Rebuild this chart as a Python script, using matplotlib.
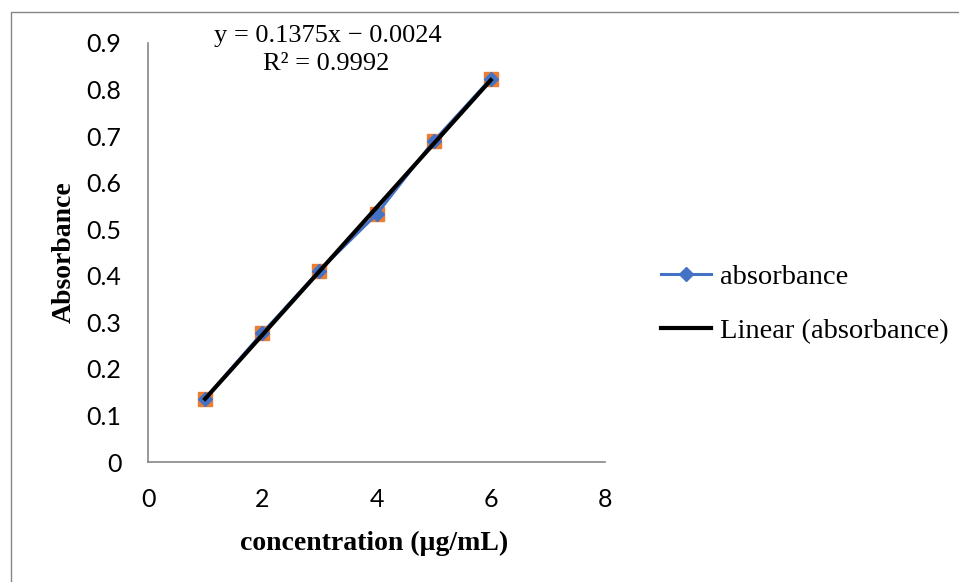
import numpy as np
import matplotlib.pyplot as plt
from matplotlib.patches import Rectangle

# calibration data
concentration = [1, 2, 3, 4, 5, 6]
absorbance = [0.136, 0.277, 0.411, 0.532, 0.689, 0.823]

x_ticks = [0, 2, 4, 6, 8]
y_ticks = [0, 0.1, 0.2, 0.3, 0.4, 0.5, 0.6, 0.7, 0.8, 0.9]

eq_text = "y = 0.1375x \u2212 0.0024"
r2_text = "R\u00b2 = 0.9992"

BLUE = '#4472C4'
ORANGE = '#ED7D31'
GRAY = '#868686'
SERIF = 'Liberation Serif'
SANS = 'Lato'

fig = plt.figure(figsize=(9.59, 5.82), dpi=100)
ax = fig.add_axes([148 / 959, 1 - 462 / 582, (605 - 148) / 959, (462 - 43) / 582])

# outer chart border (only top and left are visible in the crop)
fig.patches.append(Rectangle((11 / 959, -0.1), 1.2, 1 - 12 / 582 + 0.1,
                             transform=fig.transFigure, fill=False,
                             edgecolor=GRAY, linewidth=1))

# data series: orange squares under blue diamonds
ax.plot(concentration, absorbance, linestyle='none', marker='s', markersize=10,
        color=ORANGE, zorder=2)
ax.plot(concentration, absorbance, color=BLUE, linewidth=2.2, marker='D',
        markersize=7, label='absorbance', zorder=3)

# linear trendline
slope, intercept = np.polyfit(concentration, absorbance, 1)
xs = np.array([concentration[0], concentration[-1]])
ax.plot(xs, slope * xs + intercept, color='black', linewidth=3,
        label='Linear (absorbance)', zorder=4)

ax.set_xlim(0, 8)
ax.set_ylim(0, 0.9)
ax.set_xticks(x_ticks)
ax.set_yticks(y_ticks)
ax.set_xticklabels([str(t) for t in x_ticks], fontfamily=SANS, fontsize=18)
ax.set_yticklabels(['0'] + [f'{t:.1f}' for t in y_ticks[1:]], fontfamily=SANS, fontsize=18)
ax.tick_params(length=0)
ax.tick_params(axis='x', pad=19)
ax.tick_params(axis='y', pad=19)

for side in ['top', 'right']:
    ax.spines[side].set_visible(False)
for side in ['left', 'bottom']:
    ax.spines[side].set_color(GRAY)
    ax.spines[side].set_linewidth(1.2)

ax.set_xlabel('concentration (\u00b5g/mL)', fontfamily=SERIF, fontsize=20,
              fontweight='bold', va='center')
ax.xaxis.set_label_coords(0.494, (462 - 543) / 419)
ax.set_ylabel('Absorbance', fontfamily=SERIF, fontsize=20, fontweight='bold',
              va='center')
ax.yaxis.set_label_coords((64 - 148) / 457, 0.5)

fig.text(328 / 959, 1 - 36 / 582, eq_text, fontfamily=SERIF, fontsize=19,
         ha='center', va='center')
fig.text(326 / 959, 1 - 64 / 582, r2_text, fontfamily=SERIF, fontsize=19,
         ha='center', va='center')

leg = fig.legend(loc='center left', bbox_to_anchor=(647 / 959, 1 - 304 / 582),
                 frameon=False, prop={'family': SERIF, 'size': 20.5},
                 handlelength=1.75, handletextpad=0.3, labelspacing=0.99,
                 borderpad=0)

fig.savefig('out.png', dpi=100)
